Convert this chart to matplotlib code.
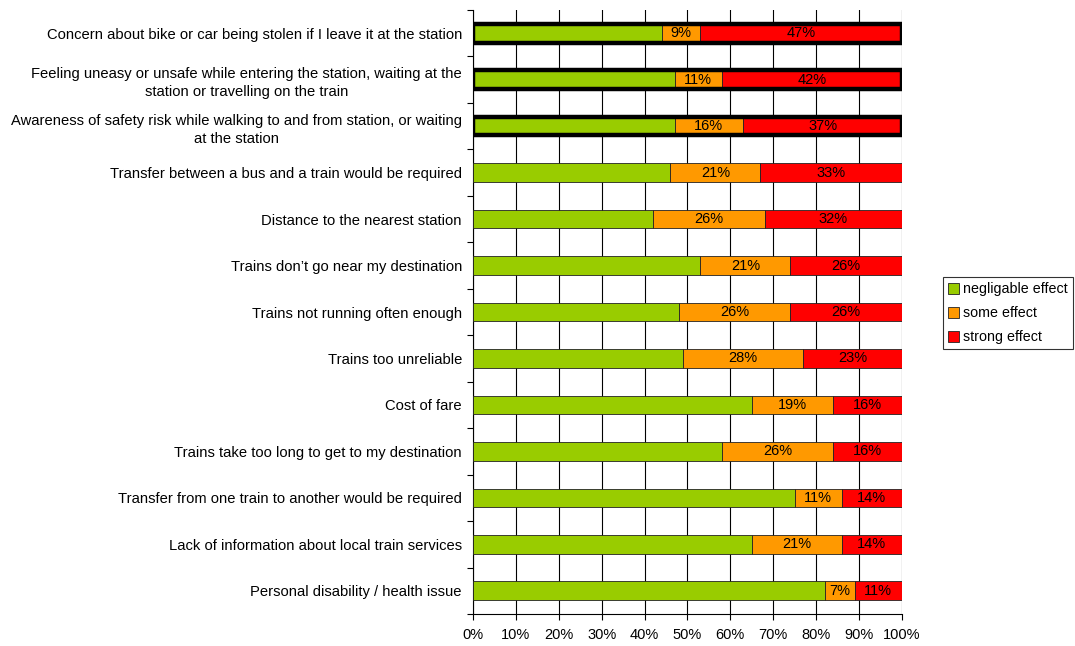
import matplotlib.pyplot as plt
from matplotlib.patches import Rectangle
import numpy as np

plt.rcParams['font.family'] = ['Liberation Sans', 'DejaVu Sans']

categories = [
    "Concern about bike or car being stolen if I leave it at the station",
    "Feeling uneasy or unsafe while entering the station, waiting at the\nstation or travelling on the train",
    "Awareness of safety risk while walking to and from station, or waiting\nat the station",
    "Transfer between a bus and a train would be required",
    "Distance to the nearest station",
    "Trains don\u2019t go near my destination",
    "Trains not running often enough",
    "Trains too unreliable",
    "Cost of fare",
    "Trains take too long to get to my destination",
    "Transfer from one train to another would be required",
    "Lack of information about local train services",
    "Personal disability / health issue",
]
some_effect = [9, 11, 16, 21, 26, 21, 26, 28, 19, 26, 11, 21, 7]
strong_effect = [47, 42, 37, 33, 32, 26, 26, 23, 16, 16, 14, 14, 11]
negligible_effect = [100 - s - t for s, t in zip(some_effect, strong_effect)]
highlighted = [0, 1, 2]

series = [("negligable effect", negligible_effect, "#99CC00", False),
          ("some effect", some_effect, "#FF9900", True),
          ("strong effect", strong_effect, "#FF0000", True)]

fig = plt.figure(figsize=(10.75, 6.46), dpi=100)
ax = fig.add_axes([0.44, 0.0495, 0.399, 0.935])

y = np.arange(len(categories))
h = 0.4
left = np.zeros(len(categories))
for name, vals, col, lab in series:
    vals = np.array(vals, dtype=float)
    ax.barh(y, vals, left=left, height=h, color=col, edgecolor="#222222",
            linewidth=0.6, label=name, zorder=3)
    if lab:
        for yi, l, v in zip(y, left, vals):
            ax.text(l + v / 2, yi, "%d%%" % v, ha="center", va="center",
                    fontsize=10.5, zorder=5)
    left += vals

# thick outline on the safety-related items
for i in highlighted:
    ax.add_patch(Rectangle((0, i - h / 2), 100, h, fill=False, edgecolor="black",
                           linewidth=3.2, zorder=4))

ax.set_xlim(0, 100)
ax.set_ylim(len(categories) - 0.5, -0.5)
ax.set_xticks(np.arange(0, 101, 10))
ax.set_xticklabels(["%d%%" % v for v in range(0, 101, 10)], fontsize=10.5)
ax.set_yticks(y)
ax.set_yticklabels(categories, fontsize=10.6, multialignment="center",
                   linespacing=1.35)
ax.set_yticks(np.arange(-0.5, len(categories), 1), minor=True)
ax.tick_params(axis="y", which="major", length=0, pad=8)
ax.tick_params(axis="y", which="minor", length=4, width=0.8)
ax.tick_params(axis="x", length=4, width=0.8, pad=6)
ax.xaxis.grid(True, color="black", linewidth=0.8, zorder=0)
ax.set_axisbelow(True)
for s in ["top", "right"]:
    ax.spines[s].set_visible(False)
ax.spines["left"].set_linewidth(0.8)
ax.spines["bottom"].set_linewidth(0.8)

leg = ax.legend(loc="center left", bbox_to_anchor=(1.095, 0.498), fontsize=10.3,
                frameon=True, fancybox=False, edgecolor="black",
                handlelength=0.8, handleheight=0.8, handletextpad=0.3,
                borderpad=0.35, labelspacing=0.7, borderaxespad=0)
leg.get_frame().set_linewidth(0.8)

fig.savefig("out.png", dpi=100)
